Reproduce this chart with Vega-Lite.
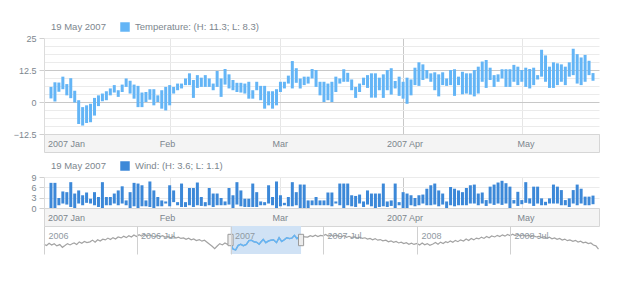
{
  "$schema": "https://vega.github.io/schema/vega-lite/v6.json",
  "padding": {"left": 13, "top": 16, "right": 5, "bottom": 5},
  "background": "white",
  "spacing": 0,
  "bounds": "flush",
  "config": {
    "font": "Liberation Sans",
    "view": {"stroke": null},
    "axis": {"labelColor": "#7c868e", "labelFontSize": 9, "labelFont": "Liberation Sans"},
    "legend": {
      "titleColor": "#7c868e", "titleFontWeight": "normal", "titleFontSize": 9.5, "titleFont": "Liberation Sans",
      "labelColor": "#7c868e", "labelFontSize": 9.5, "labelFont": "Liberation Sans",
      "symbolType": "square", "symbolSize": 90, "symbolStrokeWidth": 0,
      "direction": "horizontal", "titleOrient": "left", "titlePadding": 14, "labelOffset": 5, "padding": 6
    }
  },
  "datasets": {
    "temp": [
      {"d":"2007-01-02","h":5.9,"l":1.4},{"d":"2007-01-03","h":7.7,"l":0.2},{"d":"2007-01-04","h":7.6,"l":4.0},{"d":"2007-01-05","h":9.9,"l":5.0},{"d":"2007-01-06","h":7.0,"l":2.6},{"d":"2007-01-07","h":9.3,"l":1.5},{"d":"2007-01-08","h":4.4,"l":-0.2},{"d":"2007-01-09","h":0.7,"l":-8.6},{"d":"2007-01-10","h":-2.0,"l":-9.2},{"d":"2007-01-11","h":-1.3,"l":-8.2},{"d":"2007-01-12","h":-0.7,"l":-7.9},{"d":"2007-01-13","h":1.6,"l":-5.3},{"d":"2007-01-14","h":2.6,"l":-1.6},{"d":"2007-01-15","h":3.3,"l":0.3},{"d":"2007-01-16","h":4.2,"l":0.7},{"d":"2007-01-17","h":5.3,"l":2.6},{"d":"2007-01-18","h":6.6,"l":3.7},{"d":"2007-01-19","h":4.6,"l":2.0},{"d":"2007-01-20","h":6.8,"l":3.9},{"d":"2007-01-21","h":9.2,"l":5.9},{"d":"2007-01-22","h":8.3,"l":3.3},{"d":"2007-01-23","h":6.8,"l":1.3},{"d":"2007-01-24","h":6.3,"l":-2.0},{"d":"2007-01-25","h":3.7,"l":-2.0},{"d":"2007-01-26","h":3.9,"l":0.0},{"d":"2007-01-27","h":5.0,"l":0.9},{"d":"2007-01-28","h":5.0,"l":-1.3},{"d":"2007-01-29","h":2.6,"l":0.0},{"d":"2007-01-30","h":4.6,"l":-2.6},{"d":"2007-01-31","h":5.9,"l":-3.3},
      {"d":"2007-02-01","h":6.6,"l":-1.3},{"d":"2007-02-02","h":5.9,"l":3.3},{"d":"2007-02-03","h":7.2,"l":4.6},{"d":"2007-02-04","h":7.2,"l":5.3},{"d":"2007-02-05","h":9.2,"l":6.6},{"d":"2007-02-06","h":11.2,"l":6.6},{"d":"2007-02-07","h":8.6,"l":1.6},{"d":"2007-02-08","h":10.5,"l":5.5},{"d":"2007-02-09","h":9.5,"l":5.9},{"d":"2007-02-10","h":10.5,"l":5.9},{"d":"2007-02-11","h":9.2,"l":5.9},{"d":"2007-02-12","h":7.2,"l":4.6},{"d":"2007-02-13","h":12.1,"l":5.9},{"d":"2007-02-14","h":9.2,"l":2.0},{"d":"2007-02-15","h":12.9,"l":6.8},{"d":"2007-02-16","h":10.8,"l":5.3},{"d":"2007-02-17","h":8.6,"l":4.6},{"d":"2007-02-18","h":7.5,"l":3.9},{"d":"2007-02-19","h":7.5,"l":3.7},{"d":"2007-02-20","h":7.2,"l":3.3},{"d":"2007-02-21","h":7.9,"l":1.3},{"d":"2007-02-22","h":4.6,"l":1.3},{"d":"2007-02-23","h":7.9,"l":4.6},{"d":"2007-02-24","h":6.3,"l":0.7},{"d":"2007-02-25","h":6.3,"l":-2.6},{"d":"2007-02-26","h":4.2,"l":-1.3},{"d":"2007-02-27","h":4.2,"l":-2.6},{"d":"2007-02-28","h":5.0,"l":-1.3},
      {"d":"2007-03-01","h":7.9,"l":3.9},{"d":"2007-03-02","h":7.9,"l":5.3},{"d":"2007-03-03","h":10.3,"l":7.2},{"d":"2007-03-04","h":16.0,"l":5.3},{"d":"2007-03-05","h":13.2,"l":7.5},{"d":"2007-03-06","h":9.2,"l":5.3},{"d":"2007-03-07","h":9.9,"l":6.6},{"d":"2007-03-08","h":9.9,"l":7.2},{"d":"2007-03-09","h":12.9,"l":9.2},{"d":"2007-03-10","h":12.5,"l":5.9},{"d":"2007-03-11","h":7.9,"l":2.6},{"d":"2007-03-12","h":7.9,"l":0.0},{"d":"2007-03-13","h":7.2,"l":0.7},{"d":"2007-03-14","h":7.9,"l":0.0},{"d":"2007-03-15","h":9.9,"l":3.9},{"d":"2007-03-16","h":9.2,"l":7.2},{"d":"2007-03-17","h":12.8,"l":7.9},{"d":"2007-03-18","h":11.4,"l":7.9},{"d":"2007-03-19","h":8.8,"l":4.6},{"d":"2007-03-20","h":5.9,"l":1.6},{"d":"2007-03-21","h":7.2,"l":3.9},{"d":"2007-03-22","h":9.5,"l":6.6},{"d":"2007-03-23","h":10.5,"l":5.5},{"d":"2007-03-24","h":11.2,"l":1.7},{"d":"2007-03-25","h":11.2,"l":1.7},{"d":"2007-03-26","h":9.5,"l":4.6},{"d":"2007-03-27","h":10.8,"l":1.6},{"d":"2007-03-28","h":12.5,"l":4.6},{"d":"2007-03-29","h":13.2,"l":2.9},{"d":"2007-03-30","h":8.2,"l":5.3},{"d":"2007-03-31","h":9.9,"l":2.4},
      {"d":"2007-04-01","h":7.9,"l":1.3},{"d":"2007-04-02","h":9.5,"l":-0.7},{"d":"2007-04-03","h":8.8,"l":2.6},{"d":"2007-04-04","h":13.4,"l":6.6},{"d":"2007-04-05","h":15.5,"l":6.3},{"d":"2007-04-06","h":14.7,"l":8.6},{"d":"2007-04-07","h":12.5,"l":9.2},{"d":"2007-04-08","h":11.2,"l":7.9},{"d":"2007-04-09","h":11.6,"l":4.6},{"d":"2007-04-10","h":10.8,"l":2.2},{"d":"2007-04-11","h":11.6,"l":6.6},{"d":"2007-04-12","h":9.2,"l":6.3},{"d":"2007-04-13","h":12.5,"l":6.6},{"d":"2007-04-14","h":12.8,"l":2.4},{"d":"2007-04-15","h":9.9,"l":6.6},{"d":"2007-04-16","h":11.8,"l":3.0},{"d":"2007-04-17","h":11.2,"l":3.3},{"d":"2007-04-18","h":11.2,"l":2.9},{"d":"2007-04-19","h":12.5,"l":2.2},{"d":"2007-04-20","h":13.8,"l":3.3},{"d":"2007-04-21","h":15.8,"l":7.9},{"d":"2007-04-22","h":16.4,"l":5.5},{"d":"2007-04-23","h":13.4,"l":8.6},{"d":"2007-04-24","h":10.5,"l":5.9},{"d":"2007-04-25","h":10.8,"l":7.9},{"d":"2007-04-26","h":12.8,"l":9.2},{"d":"2007-04-27","h":12.8,"l":5.9},{"d":"2007-04-28","h":12.8,"l":5.9},{"d":"2007-04-29","h":14.5,"l":7.9},{"d":"2007-04-30","h":13.8,"l":6.6},
      {"d":"2007-05-01","h":12.5,"l":7.9},{"d":"2007-05-02","h":13.4,"l":5.9},{"d":"2007-05-03","h":12.9,"l":5.3},{"d":"2007-05-04","h":13.4,"l":6.6},{"d":"2007-05-05","h":10.5,"l":8.8},{"d":"2007-05-06","h":20.4,"l":9.9},{"d":"2007-05-07","h":18.2,"l":7.9},{"d":"2007-05-08","h":13.8,"l":5.5},{"d":"2007-05-09","h":15.5,"l":5.5},{"d":"2007-05-10","h":15.1,"l":6.6},{"d":"2007-05-11","h":14.7,"l":7.9},{"d":"2007-05-12","h":13.8,"l":6.6},{"d":"2007-05-13","h":15.5,"l":9.9},{"d":"2007-05-14","h":20.8,"l":10.5},{"d":"2007-05-15","h":18.7,"l":7.2},{"d":"2007-05-16","h":17.4,"l":6.6},{"d":"2007-05-17","h":18.4,"l":7.9},{"d":"2007-05-18","h":16.1,"l":10.5},{"d":"2007-05-19","h":11.3,"l":8.3}
    ],
    "wind": [
      {"d":"2007-01-02","h":7.3,"l":0},{"d":"2007-01-03","h":7.3,"l":0},{"d":"2007-01-04","h":2.9,"l":0.8},{"d":"2007-01-05","h":4.8,"l":1.3},{"d":"2007-01-06","h":4.6,"l":1.0},{"d":"2007-01-07","h":7.5,"l":0.3},{"d":"2007-01-08","h":4.2,"l":0},{"d":"2007-01-09","h":5.1,"l":1.3},{"d":"2007-01-10","h":3.7,"l":0.8},{"d":"2007-01-11","h":4.5,"l":1.5},{"d":"2007-01-12","h":2.7,"l":1.3},{"d":"2007-01-13","h":4.6,"l":0.8},{"d":"2007-01-14","h":3.2,"l":0.3},{"d":"2007-01-15","h":7.5,"l":0},{"d":"2007-01-16","h":3.2,"l":0.8},{"d":"2007-01-17","h":3.2,"l":0.8},{"d":"2007-01-18","h":4.2,"l":1.3},{"d":"2007-01-19","h":5.1,"l":0.8},{"d":"2007-01-20","h":6.3,"l":1.3},{"d":"2007-01-21","h":2.2,"l":0.8},{"d":"2007-01-22","h":4.6,"l":0},{"d":"2007-01-23","h":7.3,"l":0.5},{"d":"2007-01-24","h":7.1,"l":0},{"d":"2007-01-25","h":6.6,"l":0.5},{"d":"2007-01-26","h":2.2,"l":0.5},{"d":"2007-01-27","h":7.7,"l":0.3},{"d":"2007-01-28","h":5.1,"l":0},{"d":"2007-01-29","h":3.2,"l":0.5},{"d":"2007-01-30","h":2.2,"l":0.5},{"d":"2007-01-31","h":1.9,"l":1.3},
      {"d":"2007-02-01","h":6.6,"l":0.5},{"d":"2007-02-02","h":5.1,"l":1.7},{"d":"2007-02-03","h":1.7,"l":0.8},{"d":"2007-02-04","h":7.1,"l":0.3},{"d":"2007-02-05","h":1.7,"l":0.3},{"d":"2007-02-06","h":5.8,"l":0.8},{"d":"2007-02-07","h":5.8,"l":0.3},{"d":"2007-02-08","h":7.4,"l":0.8},{"d":"2007-02-09","h":3.2,"l":0.6},{"d":"2007-02-10","h":1.7,"l":0.5},{"d":"2007-02-11","h":5.8,"l":0.8},{"d":"2007-02-12","h":4.2,"l":0.3},{"d":"2007-02-13","h":4.2,"l":0.8},{"d":"2007-02-14","h":2.9,"l":0.8},{"d":"2007-02-15","h":1.9,"l":0.8},{"d":"2007-02-16","h":5.8,"l":1.0},{"d":"2007-02-17","h":3.7,"l":0},{"d":"2007-02-18","h":7.5,"l":1.0},{"d":"2007-02-19","h":5.1,"l":0.5},{"d":"2007-02-20","h":2.7,"l":0.3},{"d":"2007-02-21","h":2.7,"l":0.3},{"d":"2007-02-22","h":7.1,"l":0.3},{"d":"2007-02-23","h":4.6,"l":0.3},{"d":"2007-02-24","h":1.9,"l":0.8},{"d":"2007-02-25","h":1.7,"l":0.8},{"d":"2007-02-26","h":6.6,"l":1.3},{"d":"2007-02-27","h":3.2,"l":0.8},{"d":"2007-02-28","h":7.7,"l":0},
      {"d":"2007-03-01","h":3.7,"l":0.5},{"d":"2007-03-02","h":1.5,"l":0.8},{"d":"2007-03-03","h":3.2,"l":0.5},{"d":"2007-03-04","h":7.5,"l":0.5},{"d":"2007-03-05","h":4.6,"l":0.8},{"d":"2007-03-06","h":6.8,"l":0},{"d":"2007-03-07","h":6.8,"l":0},{"d":"2007-03-08","h":2.2,"l":0},{"d":"2007-03-09","h":2.2,"l":0.8},{"d":"2007-03-10","h":3.2,"l":0.8},{"d":"2007-03-11","h":2.2,"l":0.8},{"d":"2007-03-12","h":2.2,"l":0.8},{"d":"2007-03-13","h":4.5,"l":0.8},{"d":"2007-03-14","h":4.5,"l":0.5},{"d":"2007-03-15","h":1.9,"l":1.3},{"d":"2007-03-16","h":7.1,"l":0.8},{"d":"2007-03-17","h":7.1,"l":0},{"d":"2007-03-18","h":7.1,"l":0.8},{"d":"2007-03-19","h":3.7,"l":0.5},{"d":"2007-03-20","h":3.5,"l":0.3},{"d":"2007-03-21","h":3.9,"l":1.3},{"d":"2007-03-22","h":1.9,"l":0.3},{"d":"2007-03-23","h":5.1,"l":1.0},{"d":"2007-03-24","h":4.2,"l":0.5},{"d":"2007-03-25","h":4.2,"l":0},{"d":"2007-03-26","h":4.2,"l":0.3},{"d":"2007-03-27","h":7.1,"l":0.5},{"d":"2007-03-28","h":1.9,"l":0.3},{"d":"2007-03-29","h":2.2,"l":0.6},{"d":"2007-03-30","h":7.1,"l":0},{"d":"2007-03-31","h":1.7,"l":0.8},
      {"d":"2007-04-01","h":4.6,"l":0},{"d":"2007-04-02","h":4.2,"l":0},{"d":"2007-04-03","h":3.7,"l":0.8},{"d":"2007-04-04","h":2.9,"l":0.5},{"d":"2007-04-05","h":3.7,"l":0.8},{"d":"2007-04-06","h":3.9,"l":1.3},{"d":"2007-04-07","h":5.6,"l":0.8},{"d":"2007-04-08","h":6.6,"l":0.8},{"d":"2007-04-09","h":7.1,"l":1.0},{"d":"2007-04-10","h":5.1,"l":0.5},{"d":"2007-04-11","h":4.2,"l":1.0},{"d":"2007-04-12","h":1.9,"l":0},{"d":"2007-04-13","h":6.1,"l":0.8},{"d":"2007-04-14","h":5.6,"l":0.5},{"d":"2007-04-15","h":5.1,"l":0.8},{"d":"2007-04-16","h":4.6,"l":0.8},{"d":"2007-04-17","h":5.8,"l":0.8},{"d":"2007-04-18","h":6.6,"l":1.3},{"d":"2007-04-19","h":6.8,"l":1.3},{"d":"2007-04-20","h":4.2,"l":0.8},{"d":"2007-04-21","h":4.5,"l":1.3},{"d":"2007-04-22","h":2.3,"l":0.6},{"d":"2007-04-23","h":6.2,"l":1.3},{"d":"2007-04-24","h":6.8,"l":0.9},{"d":"2007-04-25","h":7.4,"l":1.3},{"d":"2007-04-26","h":7.9,"l":0.9},{"d":"2007-04-27","h":7.2,"l":1.3},{"d":"2007-04-28","h":6.2,"l":0},{"d":"2007-04-29","h":2.3,"l":1.3},{"d":"2007-04-30","h":4.7,"l":0.6},
      {"d":"2007-05-01","h":2.3,"l":1.1},{"d":"2007-05-02","h":7.5,"l":1.5},{"d":"2007-05-03","h":2.8,"l":1.3},{"d":"2007-05-04","h":6.2,"l":0.6},{"d":"2007-05-05","h":6.2,"l":1.3},{"d":"2007-05-06","h":2.8,"l":0.8},{"d":"2007-05-07","h":1.8,"l":0.8},{"d":"2007-05-08","h":2.8,"l":1.3},{"d":"2007-05-09","h":6.8,"l":1.3},{"d":"2007-05-10","h":6.2,"l":1.3},{"d":"2007-05-11","h":5.2,"l":0.8},{"d":"2007-05-12","h":2.3,"l":0.8},{"d":"2007-05-13","h":2.8,"l":0.3},{"d":"2007-05-14","h":5.2,"l":1.3},{"d":"2007-05-15","h":6.8,"l":0.8},{"d":"2007-05-16","h":5.6,"l":1.3},{"d":"2007-05-17","h":3.3,"l":0.8},{"d":"2007-05-18","h":3.3,"l":0.8},{"d":"2007-05-19","h":3.6,"l":1.1}
    ],
    "scroll": [
      {"d":"2006-01-01","v":3.0},{"d":"2006-01-06","v":1.5},{"d":"2006-01-11","v":4.2},{"d":"2006-01-16","v":2.0},{"d":"2006-01-21","v":3.6},{"d":"2006-01-26","v":1.0},
      {"d":"2006-02-01","v":2.6},{"d":"2006-02-06","v":-0.8},{"d":"2006-02-11","v":1.4},{"d":"2006-02-16","v":3.8},{"d":"2006-02-21","v":2.2},{"d":"2006-02-26","v":4.0},
      {"d":"2006-03-01","v":4.6},{"d":"2006-03-06","v":2.8},{"d":"2006-03-11","v":5.9},{"d":"2006-03-16","v":4.2},{"d":"2006-03-21","v":6.4},{"d":"2006-03-26","v":5.0},
      {"d":"2006-04-01","v":6.0},{"d":"2006-04-06","v":8.1},{"d":"2006-04-11","v":5.6},{"d":"2006-04-16","v":8.6},{"d":"2006-04-21","v":7.0},{"d":"2006-04-26","v":9.2},
      {"d":"2006-05-01","v":8.4},{"d":"2006-05-06","v":10.6},{"d":"2006-05-11","v":8.8},{"d":"2006-05-16","v":11.2},{"d":"2006-05-21","v":9.5},{"d":"2006-05-26","v":12.0},
      {"d":"2006-06-01","v":10.8},{"d":"2006-06-06","v":12.9},{"d":"2006-06-11","v":11.2},{"d":"2006-06-16","v":13.6},{"d":"2006-06-21","v":12.0},{"d":"2006-06-26","v":14.4},
      {"d":"2006-07-01","v":12.6},{"d":"2006-07-06","v":14.8},{"d":"2006-07-11","v":13.0},{"d":"2006-07-16","v":15.2},{"d":"2006-07-21","v":12.8},{"d":"2006-07-26","v":14.6},
      {"d":"2006-08-01","v":13.2},{"d":"2006-08-06","v":12.0},{"d":"2006-08-11","v":14.0},{"d":"2006-08-16","v":12.4},{"d":"2006-08-21","v":13.6},{"d":"2006-08-26","v":11.8},
      {"d":"2006-09-01","v":12.4},{"d":"2006-09-06","v":11.0},{"d":"2006-09-11","v":12.8},{"d":"2006-09-16","v":10.6},{"d":"2006-09-21","v":11.8},{"d":"2006-09-26","v":10.2},
      {"d":"2006-10-01","v":10.8},{"d":"2006-10-06","v":9.0},{"d":"2006-10-11","v":10.4},{"d":"2006-10-16","v":8.4},{"d":"2006-10-21","v":9.6},{"d":"2006-10-26","v":7.6},
      {"d":"2006-11-01","v":8.8},{"d":"2006-11-06","v":6.8},{"d":"2006-11-11","v":8.0},{"d":"2006-11-16","v":5.5},{"d":"2006-11-21","v":3.0},{"d":"2006-11-26","v":0.5},
      {"d":"2006-12-01","v":-2.5},{"d":"2006-12-06","v":0.8},{"d":"2006-12-11","v":3.8},{"d":"2006-12-16","v":2.2},{"d":"2006-12-21","v":4.6},{"d":"2006-12-26","v":3.0},
      {"d":"2007-01-01","v":4.0},{"d":"2007-01-06","v":-3.0},{"d":"2007-01-11","v":-4.0},{"d":"2007-01-16","v":1.6},{"d":"2007-01-21","v":3.0},{"d":"2007-01-26","v":1.2},
      {"d":"2007-02-01","v":2.8},{"d":"2007-02-06","v":7.5},{"d":"2007-02-11","v":8.0},{"d":"2007-02-16","v":6.0},{"d":"2007-02-21","v":5.5},{"d":"2007-02-26","v":3.0},
      {"d":"2007-03-01","v":5.5},{"d":"2007-03-06","v":9.0},{"d":"2007-03-11","v":5.0},{"d":"2007-03-16","v":7.0},{"d":"2007-03-21","v":8.0},{"d":"2007-03-26","v":8.5},
      {"d":"2007-04-01","v":5.0},{"d":"2007-04-06","v":11.0},{"d":"2007-04-11","v":6.5},{"d":"2007-04-16","v":8.5},{"d":"2007-04-21","v":11.0},{"d":"2007-04-26","v":10.0},
      {"d":"2007-05-01","v":10.5},{"d":"2007-05-06","v":14.0},{"d":"2007-05-11","v":10.0},{"d":"2007-05-16","v":12.5},{"d":"2007-05-21","v":13.5},{"d":"2007-05-26","v":12.0},
      {"d":"2007-06-01","v":11.8},{"d":"2007-06-06","v":13.6},{"d":"2007-06-11","v":12.4},{"d":"2007-06-16","v":14.2},{"d":"2007-06-21","v":12.6},{"d":"2007-06-26","v":14.0},
      {"d":"2007-07-01","v":13.4},{"d":"2007-07-06","v":15.0},{"d":"2007-07-11","v":13.2},{"d":"2007-07-16","v":14.6},{"d":"2007-07-21","v":12.8},{"d":"2007-07-26","v":14.2},
      {"d":"2007-08-01","v":13.0},{"d":"2007-08-06","v":12.2},{"d":"2007-08-11","v":13.8},{"d":"2007-08-16","v":11.6},{"d":"2007-08-21","v":12.8},{"d":"2007-08-26","v":11.4},
      {"d":"2007-09-01","v":12.0},{"d":"2007-09-06","v":10.6},{"d":"2007-09-11","v":11.8},{"d":"2007-09-16","v":10.2},{"d":"2007-09-21","v":11.0},{"d":"2007-09-26","v":9.4},
      {"d":"2007-10-01","v":10.2},{"d":"2007-10-06","v":8.6},{"d":"2007-10-11","v":10.0},{"d":"2007-10-16","v":8.0},{"d":"2007-10-21","v":8.8},{"d":"2007-10-26","v":7.2},
      {"d":"2007-11-01","v":8.0},{"d":"2007-11-06","v":6.0},{"d":"2007-11-11","v":7.2},{"d":"2007-11-16","v":5.4},{"d":"2007-11-21","v":6.4},{"d":"2007-11-26","v":4.6},
      {"d":"2007-12-01","v":5.6},{"d":"2007-12-06","v":3.8},{"d":"2007-12-11","v":5.0},{"d":"2007-12-16","v":3.0},{"d":"2007-12-21","v":4.4},{"d":"2007-12-26","v":2.8},
      {"d":"2008-01-01","v":4.0},{"d":"2008-01-06","v":2.2},{"d":"2008-01-11","v":4.6},{"d":"2008-01-16","v":2.4},{"d":"2008-01-21","v":3.8},{"d":"2008-01-26","v":1.8},
      {"d":"2008-02-01","v":3.4},{"d":"2008-02-06","v":5.2},{"d":"2008-02-11","v":3.0},{"d":"2008-02-16","v":5.6},{"d":"2008-02-21","v":4.0},{"d":"2008-02-26","v":6.2},
      {"d":"2008-03-01","v":5.0},{"d":"2008-03-06","v":7.0},{"d":"2008-03-11","v":5.4},{"d":"2008-03-16","v":7.8},{"d":"2008-03-21","v":6.2},{"d":"2008-03-26","v":8.4},
      {"d":"2008-04-01","v":7.0},{"d":"2008-04-06","v":9.4},{"d":"2008-04-11","v":7.6},{"d":"2008-04-16","v":10.0},{"d":"2008-04-21","v":8.4},{"d":"2008-04-26","v":10.6},
      {"d":"2008-05-01","v":9.6},{"d":"2008-05-06","v":11.8},{"d":"2008-05-11","v":10.2},{"d":"2008-05-16","v":12.6},{"d":"2008-05-21","v":11.0},{"d":"2008-05-26","v":13.2},
      {"d":"2008-06-01","v":12.0},{"d":"2008-06-06","v":14.0},{"d":"2008-06-11","v":12.6},{"d":"2008-06-16","v":14.6},{"d":"2008-06-21","v":13.0},{"d":"2008-06-26","v":15.0},
      {"d":"2008-07-01","v":13.6},{"d":"2008-07-06","v":15.4},{"d":"2008-07-11","v":13.8},{"d":"2008-07-16","v":15.0},{"d":"2008-07-21","v":13.2},{"d":"2008-07-26","v":14.6},
      {"d":"2008-08-01","v":13.0},{"d":"2008-08-06","v":14.2},{"d":"2008-08-11","v":12.4},{"d":"2008-08-16","v":13.6},{"d":"2008-08-21","v":12.0},{"d":"2008-08-26","v":12.8},
      {"d":"2008-09-01","v":11.2},{"d":"2008-09-06","v":12.4},{"d":"2008-09-11","v":10.4},{"d":"2008-09-16","v":11.6},{"d":"2008-09-21","v":9.8},{"d":"2008-09-26","v":10.8},
      {"d":"2008-10-01","v":9.0},{"d":"2008-10-06","v":10.2},{"d":"2008-10-11","v":8.2},{"d":"2008-10-16","v":9.4},{"d":"2008-10-21","v":7.4},{"d":"2008-10-26","v":8.4},
      {"d":"2008-11-01","v":6.6},{"d":"2008-11-06","v":7.8},{"d":"2008-11-11","v":5.8},{"d":"2008-11-16","v":6.8},{"d":"2008-11-21","v":4.8},{"d":"2008-11-26","v":5.6},
      {"d":"2008-12-01","v":3.8},{"d":"2008-12-06","v":4.6},{"d":"2008-12-11","v":2.0},{"d":"2008-12-16","v":1.0},{"d":"2008-12-21","v":-3.0}
    ],
    "sel": [{"s":"2007-01-01","e":"2007-05-19"}]
  },
  "vconcat": [
    {
      "width": 555, "height": 96,
      "data": {"name": "temp"},
      "mark": {"type": "bar", "width": 3},
      "encoding": {
        "x": {"field": "d", "type": "temporal",
          "scale": {"type": "utc", "domain": [{"year":2007,"month":1,"date":1,"hours":12,"utc":true},{"year":2007,"month":5,"date":19,"hours":6,"utc":true}]},
          "axis": {"title": null, "labels": false, "ticks": false, "domain": false, "grid": true,
            "values": [{"year":2007,"month":2,"date":1,"utc":true},{"year":2007,"month":3,"date":1,"utc":true},{"year":2007,"month":4,"date":1,"utc":true},{"year":2007,"month":5,"date":1,"utc":true}],
            "gridColor": {"condition": {"test": "utcmonth(datum.value) == 3", "value": "#c8c8c8"}, "value": "#e6e6e6"}}},
        "y": {"field": "l", "type": "quantitative",
          "scale": {"domain": [-12.5, 25], "nice": false, "zero": false},
          "axis": {"title": null, "values": [-12.5, -9.375, -6.25, -3.125, 0, 3.125, 6.25, 9.375, 12.5, 15.625, 18.75, 21.875, 25],
            "labelExpr": "datum.value % 12.5 == 0 ? format(datum.value, '~g') : ''",
            "labelOverlap": false, "labelPadding": 3, "tickSize": 5, "tickColor": "#d0d0d0",
            "tickOpacity": {"condition": {"test": "datum.value % 12.5 == 0", "value": 1}, "value": 0},
            "domainColor": "#dcdcdc", "grid": true,
            "gridColor": {"condition": {"test": "datum.value % 12.5 == 0 && datum.value != 25", "value": "#c8c8c8"}, "value": "#ebebeb"},
            "minExtent": 30, "maxExtent": 30}},
        "y2": {"field": "h"},
        "color": {"datum": "Temperature: (H: 11.3; L: 8.3)", "scale": {"range": ["#64b5f6"]},
          "legend": {"orient": "none", "legendX": 1, "legendY": -22, "title": "19 May 2007"}}
      }
    },
    {
      "width": 555, "height": 18,
      "view": {"fill": "#f4f4f4", "stroke": "#d6d6d6"},
      "data": {"name": "temp"},
      "mark": {"type": "point", "opacity": 0},
      "encoding": {
        "x": {"field": "d", "type": "temporal",
          "scale": {"type": "utc", "domain": [{"year":2007,"month":1,"date":1,"hours":12,"utc":true},{"year":2007,"month":5,"date":19,"hours":6,"utc":true}]},
          "axis": {"orient": "top", "title": null, "domain": false, "ticks": false, "tickSize": 0, "grid": false,
            "labelPadding": -9, "labelBaseline": "middle", "labelFlush": false, "labelOverlap": false,
            "values": [{"year":2007,"month":1,"date":6,"hours":23,"utc":true},{"year":2007,"month":2,"date":1,"utc":true},{"year":2007,"month":3,"date":1,"utc":true},{"year":2007,"month":4,"date":1,"utc":true},{"year":2007,"month":5,"date":1,"utc":true}],
            "labelExpr": "utcmonth(datum.value) == 0 || utcmonth(datum.value) == 3 ? utcFormat(datum.value, '%Y %b') : utcFormat(datum.value, '%b')"}}
      }
    },
    {
      "width": 555, "height": 25,
      "data": {"name": "sel"},
      "mark": {"type": "point", "opacity": 0}
    },
    {
      "width": 555, "height": 31,
      "data": {"name": "wind"},
      "mark": {"type": "bar", "width": 3},
      "encoding": {
        "x": {"field": "d", "type": "temporal",
          "scale": {"type": "utc", "domain": [{"year":2007,"month":1,"date":1,"hours":12,"utc":true},{"year":2007,"month":5,"date":19,"hours":6,"utc":true}]},
          "axis": {"title": null, "labels": false, "ticks": false, "domain": false, "grid": true,
            "values": [{"year":2007,"month":2,"date":1,"utc":true},{"year":2007,"month":3,"date":1,"utc":true},{"year":2007,"month":4,"date":1,"utc":true},{"year":2007,"month":5,"date":1,"utc":true}],
            "gridColor": {"condition": {"test": "utcmonth(datum.value) == 3", "value": "#c8c8c8"}, "value": "#e6e6e6"}}},
        "y": {"field": "l", "type": "quantitative",
          "scale": {"domain": [0, 9], "nice": false},
          "axis": {"title": null, "values": [0, 3, 6, 9], "labelOverlap": false, "labelPadding": 3, "tickSize": 5, "tickColor": "#d0d0d0",
            "domainColor": "#dcdcdc", "grid": true, "gridColor": "#ebebeb", "minExtent": 30, "maxExtent": 30}},
        "y2": {"field": "h"},
        "color": {"datum": "Wind: (H: 3.6; L: 1.1)", "scale": {"range": ["#3c88d8"]},
          "legend": {"orient": "none", "legendX": 1, "legendY": -22, "title": "19 May 2007"}}
      }
    },
    {
      "width": 555, "height": 18,
      "view": {"fill": "#f4f4f4", "stroke": "#d6d6d6"},
      "data": {"name": "wind"},
      "mark": {"type": "point", "opacity": 0},
      "encoding": {
        "x": {"field": "d", "type": "temporal",
          "scale": {"type": "utc", "domain": [{"year":2007,"month":1,"date":1,"hours":12,"utc":true},{"year":2007,"month":5,"date":19,"hours":6,"utc":true}]},
          "axis": {"orient": "top", "title": null, "domain": false, "ticks": false, "tickSize": 0, "grid": false,
            "labelPadding": -9, "labelBaseline": "middle", "labelFlush": false, "labelOverlap": false,
            "values": [{"year":2007,"month":1,"date":6,"hours":23,"utc":true},{"year":2007,"month":2,"date":1,"utc":true},{"year":2007,"month":3,"date":1,"utc":true},{"year":2007,"month":4,"date":1,"utc":true},{"year":2007,"month":5,"date":1,"utc":true}],
            "labelExpr": "utcmonth(datum.value) == 0 || utcmonth(datum.value) == 3 ? utcFormat(datum.value, '%Y %b') : utcFormat(datum.value, '%b')"}}
      }
    },
    {
      "width": 555, "height": 28,
      "layer": [
        {
          "data": {"name": "sel"},
          "mark": {"type": "rect", "color": "#d0e2f5"},
          "encoding": {
            "x": {"field": "s", "type": "temporal",
              "scale": {"type": "utc", "domain": [{"year":2006,"month":1,"date":1,"utc":true},{"year":2008,"month":12,"date":22,"utc":true}]},
              "axis": {"orient": "top", "title": null, "domain": false, "ticks": false, "tickSize": 0, "grid": true, "gridColor": "#d0d0d0",
                "zindex": 1, "labelAlign": "left", "labelBaseline": "middle", "labelPadding": -9, "labelOffset": 4, "labelFlush": false,
                "labelOverlap": false, "labelColor": "#8f99a2",
                "values": [{"year":2006,"month":1,"date":1,"utc":true},{"year":2006,"month":7,"date":1,"utc":true},{"year":2007,"month":1,"date":1,"utc":true},{"year":2007,"month":7,"date":1,"utc":true},{"year":2008,"month":1,"date":1,"utc":true},{"year":2008,"month":7,"date":1,"utc":true}],
                "labelExpr": "utcmonth(datum.value) == 0 ? utcFormat(datum.value, '%Y') : utcFormat(datum.value, '%Y %b')"}},
            "x2": {"field": "e"}
          }
        },
        {
          "data": {"name": "scroll"},
          "mark": {"type": "line", "color": "#a3a3a3", "strokeWidth": 1.2},
          "encoding": {
            "x": {"field": "d", "type": "temporal"},
            "y": {"field": "v", "type": "quantitative", "scale": {"domain": [-9, 25.5], "nice": false, "zero": false}, "axis": null}
          }
        },
        {
          "data": {"name": "scroll"},
          "transform": [{"filter": {"field": "d", "range": [{"year":2007,"month":1,"date":1,"utc":true},{"year":2007,"month":5,"date":21,"utc":true}]}}],
          "mark": {"type": "line", "color": "#64b5f6", "strokeWidth": 1.5},
          "encoding": {
            "x": {"field": "d", "type": "temporal"},
            "y": {"field": "v", "type": "quantitative"}
          }
        },
        {
          "data": {"name": "sel"},
          "mark": {"type": "point", "shape": "M-0.45,-1H0.45V1H-0.45Z", "size": 130, "filled": true, "fill": "#ececec", "stroke": "#9a9a9a", "strokeWidth": 1, "opacity": 1},
          "encoding": {"x": {"field": "s", "type": "temporal"}}
        },
        {
          "data": {"name": "sel"},
          "mark": {"type": "point", "shape": "M-0.45,-1H0.45V1H-0.45Z", "size": 130, "filled": true, "fill": "#ececec", "stroke": "#9a9a9a", "strokeWidth": 1, "opacity": 1},
          "encoding": {"x": {"field": "e", "type": "temporal"}}
        }
      ]
    }
  ],
  "resolve": {"scale": {"x": "independent", "y": "independent", "color": "independent"}, "legend": {"color": "independent"}}
}
